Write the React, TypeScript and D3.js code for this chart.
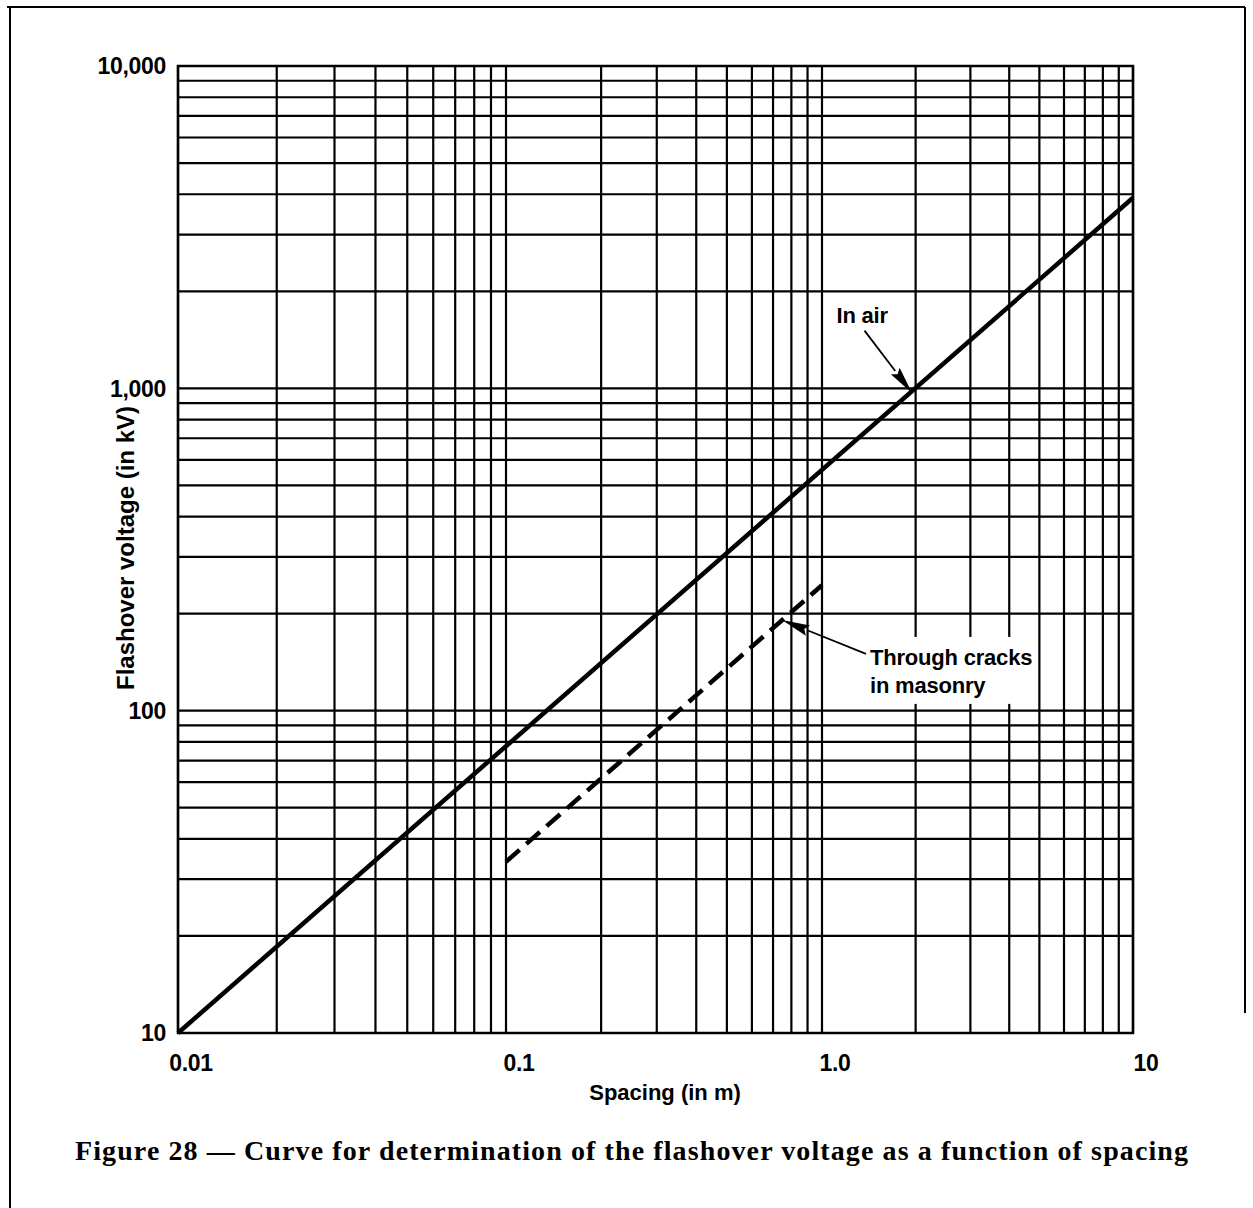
import React from "react";
import * as d3 from "d3";

// axis decades (printed log paper is a little uneven, so the x scale is piecewise)
const xDecades = [0.01, 0.1, 1, 10];
const yDecades = [10, 100, 1000, 10000];
const xTickLabels = ["0.01", "0.1", "1.0", "10"];
const yTickLabels = ["10", "100", "1,000", "10,000"];

// curves (spacing in m, flashover voltage in kV)
const inAir = [
    { x: 0.01, y: 10 },
    { x: 10, y: 3900 },
];
const throughCracks = [
    { x: 0.1, y: 34 },
    { x: 1.0, y: 245 },
];

// annotation arrows: tail -> tip, in data units
const airArrow = { tail: { x: 1.37, y: 1510 }, tip: { x: 1.95, y: 965 } };
const crackArrow = { tail: { x: 1.385, y: 150 }, tip: { x: 0.747, y: 191 } };

const W = 1253;
const H = 1208;
const sans = "'Liberation Sans', Arial, Helvetica, sans-serif";
const serif = "'Liberation Serif', 'Times New Roman', serif";

export default class App extends React.Component {
    svg: React.RefObject<SVGSVGElement> = React.createRef<SVGSVGElement>();
    componentDidMount() {
        //@ts-ignore
        const svg = d3.select(this.svg.current);
        svg.selectAll("*").remove();

        const x = d3.scaleLog().domain(xDecades).range([178, 506, 822, 1133]);
        const y = d3.scaleLog().domain([yDecades[0], yDecades[3]]).range([1033, 66]);
        const [x0, x1] = [x(xDecades[0]), x(xDecades[3])];
        const [y0, y1] = [y(yDecades[0]), y(yDecades[3])];

        // outer frame
        const frame = svg.append("g").attr("stroke", "#000").attr("stroke-width", 2);
        frame.append("line").attr("x1", 10).attr("y1", 7).attr("x2", 10).attr("y2", H);
        frame.append("line").attr("x1", 7).attr("y1", 7).attr("x2", 1245).attr("y2", 7);
        frame.append("line").attr("x1", 1245).attr("y1", 7).attr("x2", 1245).attr("y2", 1013);

        // grid
        const grid = svg.append("g").attr("stroke", "#000").attr("stroke-width", 2.2);
        grid.selectAll("line.v")
            .data(x.ticks())
            .join("line")
            .attr("class", "v")
            .attr("x1", d => x(d)).attr("x2", d => x(d))
            .attr("y1", y1).attr("y2", y0);
        grid.selectAll("line.h")
            .data(y.ticks())
            .join("line")
            .attr("class", "h")
            .attr("x1", x0).attr("x2", x1)
            .attr("y1", d => y(d)).attr("y2", d => y(d));
        grid.append("rect")
            .attr("x", x0).attr("y", y1)
            .attr("width", x1 - x0).attr("height", y0 - y1)
            .attr("fill", "none").attr("stroke-width", 2.5);

        // tick labels
        svg.append("g")
            .selectAll("text")
            .data(yDecades)
            .join("text")
            .attr("x", 166)
            .attr("y", d => y(d))
            .attr("dy", "0.36em")
            .attr("text-anchor", "end")
            .attr("font-family", sans).attr("font-weight", "bold").attr("font-size", 23)
            .attr("letter-spacing", -0.3)
            .text((d, i) => yTickLabels[i]);
        svg.append("g")
            .selectAll("text")
            .data(xDecades)
            .join("text")
            .attr("x", d => x(d) + 13)
            .attr("y", 1071)
            .attr("text-anchor", "middle")
            .attr("font-family", sans).attr("font-weight", "bold").attr("font-size", 23)
            .attr("letter-spacing", -0.3)
            .text((d, i) => xTickLabels[i]);

        // axis titles
        svg.append("text")
            .attr("x", 665).attr("y", 1100)
            .attr("text-anchor", "middle")
            .attr("font-family", sans).attr("font-weight", "bold").attr("font-size", 22)
            .text("Spacing (in m)");
        svg.append("text")
            .attr("transform", "translate(125,548) rotate(-90)")
            .attr("dy", "0.36em")
            .attr("text-anchor", "middle")
            .attr("font-family", sans).attr("font-weight", "bold").attr("font-size", 24)
            .text("Flashover voltage (in kV)");

        // curves
        const line = d3.line<{ x: number, y: number }>()
            .x(d => x(d.x))
            .y(d => y(d.y));
        svg.append("path")
            .attr("d", line(inAir))
            .attr("fill", "none").attr("stroke", "#000").attr("stroke-width", 4.5);
        svg.append("path")
            .attr("d", line(throughCracks))
            .attr("fill", "none").attr("stroke", "#000").attr("stroke-width", 4.5)
            .attr("stroke-dasharray", "18 9");

        // annotation arrows
        const arrow = (a: { tail: { x: number, y: number }, tip: { x: number, y: number } }) => {
            const tx = x(a.tip.x), ty = y(a.tip.y);
            const sx = x(a.tail.x), sy = y(a.tail.y);
            const ang = Math.atan2(ty - sy, tx - sx);
            const len = 28, half = 5.5;
            const bx = tx - len * Math.cos(ang), by = ty - len * Math.sin(ang);
            const nx = -Math.sin(ang) * half, ny = Math.cos(ang) * half;
            svg.append("line")
                .attr("x1", sx).attr("y1", sy).attr("x2", bx).attr("y2", by)
                .attr("stroke", "#000").attr("stroke-width", 1.8);
            svg.append("path")
                .attr("d", `M${tx},${ty}L${bx + nx},${by + ny}L${bx + 4 * Math.cos(ang)},${by + 4 * Math.sin(ang)}L${bx - nx},${by - ny}Z`)
                .attr("fill", "#000");
        };
        arrow(airArrow);
        arrow(crackArrow);

        // the crack label sits on a white patch that interrupts the grid
        const cx = x(crackArrow.tail.x), cy = y(crackArrow.tail.y);
        svg.append("rect")
            .attr("x", cx + 1).attr("y", cy - 17)
            .attr("width", 165).attr("height", 67)
            .attr("fill", "#fff");

        const label = svg.append("g")
            .attr("font-family", sans).attr("font-weight", "bold").attr("font-size", 22)
            .attr("letter-spacing", -0.2);
        label.append("text")
            .attr("x", x(airArrow.tail.x) - 28).attr("y", y(airArrow.tail.y) - 8)
            .text("In air");
        label.append("text")
            .attr("x", cx + 4).attr("y", cy + 11)
            .text("Through cracks");
        label.append("text")
            .attr("x", cx + 4).attr("y", cy + 39)
            .text("in masonry");

        // caption
        svg.append("text")
            .attr("x", 75).attr("y", 1160)
            .attr("textLength", 1113).attr("lengthAdjust", "spacing")
            .attr("font-family", serif).attr("font-weight", "bold").attr("font-size", 28)
            .text("Figure 28 \u2014 Curve for determination of the flashover voltage as a function of spacing");
    }
    render(): React.ReactNode {
        return (
            <svg ref={this.svg} width={W} height={H} viewBox={`0 0 ${W} ${H}`}
                style={{ position: "absolute", left: 0, top: 0, background: "#fff" }}></svg>
        );
    }
}
